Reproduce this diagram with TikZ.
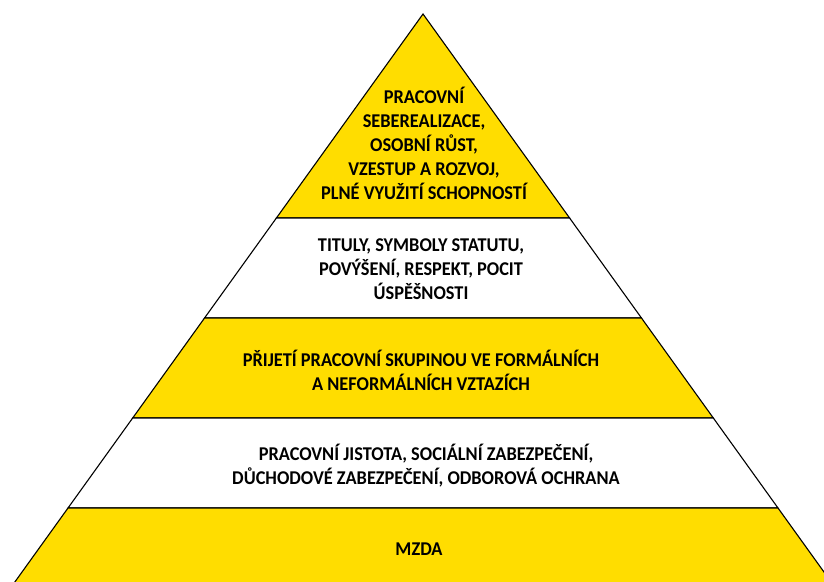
\documentclass[tikz,border=0pt]{standalone}
\usepackage{fontspec}
\setmainfont{Carlito}[FakeStretch=0.94]
\usetikzlibrary{positioning, calc}
\definecolor{tieryellow}{RGB}{255,221,0}

\begin{document}
\begin{tikzpicture}[
        x=1pt, y=-1pt,
        tier/.style={draw=black, line width=1.1pt, line join=miter},
        tiertext/.style={font=\bfseries\fontsize{19.5}{24}\selectfont, align=center, text=black}
    ]
        \clip (0,0) rectangle (824,581);
        % pyramid tiers: top y / bottom y / fill
        \foreach \ytop/\ybot/\col in {14/218/tieryellow, 218/318/white, 318/418/tieryellow, 418/508/white, 508/600/tieryellow}{
            \pgfmathsetmacro{\wtop}{0.7186*(\ytop-14)}
            \pgfmathsetmacro{\wbot}{0.7186*(\ybot-14)}
            \filldraw[tier, fill=\col] (423-\wtop,\ytop) -- (423+\wtop,\ytop) -- (423+\wbot,\ybot) -- (423-\wbot,\ybot) -- cycle;
        }
        \node[tiertext] (selfreal) at (424,143) {PRACOVNÍ\\SEBEREALIZACE,\\OSOBNÍ RŮST,\\VZESTUP A ROZVOJ,\\PLNÉ VYUŽITÍ SCHOPNOSTÍ};
        \node[tiertext] (esteem) at (421,269) {TITULY, SYMBOLY STATUTU,\\POVÝŠENÍ, RESPEKT, POCIT\\ÚSPĚŠNOSTI};
        \node[tiertext] (social) at (421,370) {PŘIJETÍ PRACOVNÍ SKUPINOU VE FORMÁLNÍCH\\A NEFORMÁLNÍCH VZTAZÍCH};
        \node[tiertext] (safety) at (426,465.5) {PRACOVNÍ JISTOTA, SOCIÁLNÍ ZABEZPEČENÍ,\\DŮCHODOVÉ ZABEZPEČENÍ, ODBOROVÁ OCHRANA};
        \node[tiertext] (wage) at (419,549) {MZDA};
    \end{tikzpicture}
\end{document}
